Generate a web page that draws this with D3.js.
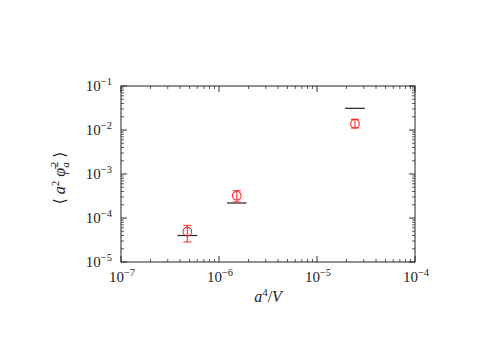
<!DOCTYPE html>
<html><head><meta charset="utf-8">
<script src="https://cdn.jsdelivr.net/npm/d3@7"></script>
<style>body{margin:0;background:#fff}svg{display:block}text{font-family:"Liberation Serif","DejaVu Serif",serif}</style>
</head><body><svg id="c" width="491" height="344"></svg>
<script>
// data
const xValues = [4.75e-7, 1.52e-6, 2.44e-5];
const measured = [4.9e-5, 3.2e-4, 0.0139];
const errLow = [2.85e-5, 2.31e-4, 0.0111];
const errHigh = [6.8e-5, 4.17e-4, 0.0175];
const reference = [4.0e-5, 2.19e-4, 0.0311];
const xTickExps = [-7, -6, -5, -4];
const yTickExps = [-5, -4, -3, -2, -1];

const svg = d3.select("#c");
const m = {l:121, r:415, t:86, b:262};
const x = d3.scaleLog().domain([1e-7, 1e-4]).range([m.l, m.r]);
const y = d3.scaleLog().domain([1e-5, 1e-1]).range([m.b, m.t]);

const g = svg.append("g");
function minorTicks(dom){ const out=[]; for(let e=Math.log10(dom[0]); e<Math.log10(dom[1]); e++){ for(let k=2;k<10;k++) out.push(k*Math.pow(10,e)); } return out; }
const tickCol = "#333";
const majL = 6, minL = 3;
xTickExps.forEach(e=>{ const v=Math.pow(10,e);
  g.append("line").attr("x1",x(v)).attr("x2",x(v)).attr("y1",m.b).attr("y2",m.b-majL).attr("stroke",tickCol);
  g.append("line").attr("x1",x(v)).attr("x2",x(v)).attr("y1",m.t).attr("y2",m.t+majL).attr("stroke",tickCol);
});
minorTicks(x.domain()).forEach(v=>{
  g.append("line").attr("x1",x(v)).attr("x2",x(v)).attr("y1",m.b).attr("y2",m.b-minL).attr("stroke",tickCol).attr("stroke-width",0.8);
  g.append("line").attr("x1",x(v)).attr("x2",x(v)).attr("y1",m.t).attr("y2",m.t+minL).attr("stroke",tickCol).attr("stroke-width",0.8);
});
yTickExps.forEach(e=>{ const v=Math.pow(10,e);
  g.append("line").attr("y1",y(v)).attr("y2",y(v)).attr("x1",m.l).attr("x2",m.l+majL).attr("stroke",tickCol);
  g.append("line").attr("y1",y(v)).attr("y2",y(v)).attr("x1",m.r).attr("x2",m.r-majL).attr("stroke",tickCol);
});
minorTicks(y.domain()).forEach(v=>{
  g.append("line").attr("y1",y(v)).attr("y2",y(v)).attr("x1",m.l).attr("x2",m.l+minL).attr("stroke",tickCol).attr("stroke-width",0.8);
  g.append("line").attr("y1",y(v)).attr("y2",y(v)).attr("x1",m.r).attr("x2",m.r-minL).attr("stroke",tickCol).attr("stroke-width",0.8);
});
g.append("rect").attr("x",m.l).attr("y",m.t).attr("width",m.r-m.l).attr("height",m.b-m.t).attr("fill","none").attr("stroke","#222").attr("stroke-width",1);

// tick labels
xTickExps.forEach(e=>{
  const t = svg.append("text").attr("x",x(Math.pow(10,e))+1).attr("y",m.b+20).attr("text-anchor","middle").attr("font-size",15).attr("fill","#222");
  t.append("tspan").text("10");
  t.append("tspan").attr("dy",-6).attr("font-size",10.5).text("−"+(-e));
});
yTickExps.forEach(e=>{
  const t = svg.append("text").attr("x",m.l-9).attr("y",y(Math.pow(10,e))+5).attr("text-anchor","end").attr("font-size",15).attr("fill","#222");
  t.append("tspan").text("10");
  t.append("tspan").attr("dy",-6).attr("font-size",10.5).text("−"+(-e));
});

// axis labels
const xl = svg.append("text").attr("x",268).attr("y",302).attr("text-anchor","middle").attr("font-size",16).attr("fill","#222");
xl.append("tspan").attr("font-style","italic").text("a");
xl.append("tspan").attr("dy",-6).attr("font-size",11).text("4");
xl.append("tspan").attr("dy",6).text("/");
xl.append("tspan").attr("font-style","italic").text("V");

const yl = svg.append("text").attr("transform","translate(65,178) rotate(-90)").attr("text-anchor","middle").attr("font-size",16).attr("fill","#222");
yl.append("tspan").text("⟨ ");
yl.append("tspan").attr("font-style","italic").text("a");
yl.append("tspan").attr("dy",-6).attr("font-size",11).text("2");
yl.append("tspan").attr("dy",6).attr("font-style","italic").text(" φ̄");
yl.append("tspan").attr("dy",4).attr("font-size",11).attr("font-style","italic").text("a");
yl.append("tspan").attr("dx",-5).attr("dy",-11).attr("font-size",11).text("2");
yl.append("tspan").attr("dy",7).text(" ⟩");

// reference horizontal lines
const idx = d3.range(xValues.length);
const hw = 1.26;
svg.selectAll("line.ref").data(idx).enter().append("line").attr("class","ref")
  .attr("x1",i=>x(xValues[i]/hw)).attr("x2",i=>x(xValues[i]*hw))
  .attr("y1",i=>y(reference[i])).attr("y2",i=>y(reference[i]))
  .attr("stroke","#222").attr("stroke-width",1.2);

const red = "#f22";
svg.selectAll("line.err").data(idx).enter().append("line").attr("class","err")
  .attr("x1",i=>x(xValues[i])).attr("x2",i=>x(xValues[i]))
  .attr("y1",i=>y(errLow[i])).attr("y2",i=>y(errHigh[i])).attr("stroke",red).attr("stroke-width",1);
[errLow, errHigh].forEach(arr=>{
  svg.selectAll(null).data(idx).enter().append("line")
    .attr("x1",i=>x(xValues[i])-4).attr("x2",i=>x(xValues[i])+4)
    .attr("y1",i=>y(arr[i])).attr("y2",i=>y(arr[i])).attr("stroke",red).attr("stroke-width",1);
});
svg.selectAll("circle").data(idx).enter().append("circle")
  .attr("cx",i=>x(xValues[i])).attr("cy",i=>y(measured[i])).attr("r",4.3)
  .attr("fill","none").attr("stroke",red).attr("stroke-width",1.1);
</script></body></html>
